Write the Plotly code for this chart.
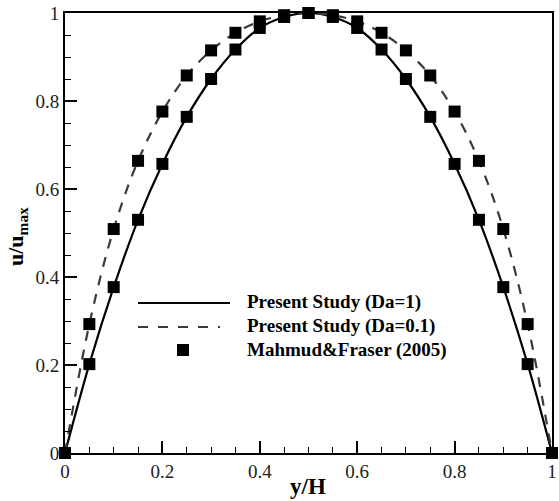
import plotly.graph_objects as go

# ---- data ----
y_over_H = [0.0, 0.05, 0.10, 0.15, 0.20, 0.25, 0.30, 0.35, 0.40, 0.45, 0.50,
            0.55, 0.60, 0.65, 0.70, 0.75, 0.80, 0.85, 0.90, 0.95, 1.0]
u_da1 = [0.0, 0.202, 0.377, 0.530, 0.657, 0.764, 0.850, 0.917, 0.966, 0.991, 1.0,
         0.991, 0.966, 0.917, 0.850, 0.764, 0.657, 0.530, 0.377, 0.202, 0.0]
u_da01 = [0.0, 0.293, 0.509, 0.664, 0.776, 0.858, 0.915, 0.955, 0.981, 0.995, 1.0,
          0.995, 0.981, 0.955, 0.915, 0.858, 0.776, 0.664, 0.509, 0.293, 0.0]
# Mahmud & Fraser (2005) reference points (both Darcy numbers)
mf_x = y_over_H + y_over_H
mf_u = u_da1 + u_da01

legend_labels = ["Present Study (Da=1)", "Present Study (Da=0.1)", "Mahmud&amp;Fraser (2005)"]
tick_vals = [0, 0.2, 0.4, 0.6, 0.8, 1.0]

FONT = "Times New Roman"

fig = go.Figure()
fig.add_trace(go.Scatter(x=y_over_H, y=u_da1, mode="lines", line_shape="spline",
                         line=dict(color="black", width=2.2), showlegend=False))
fig.add_trace(go.Scatter(x=y_over_H, y=u_da01, mode="lines", line_shape="spline",
                         line=dict(color="#3a3a3a", width=2.2, dash="10px,9px"), showlegend=False))
fig.add_trace(go.Scatter(x=mf_x, y=mf_u, mode="markers", cliponaxis=False,
                         marker=dict(symbol="square", size=12, color="black"), showlegend=False))

# pixel -> paper helpers for the hand-drawn legend
L, R, T, B = 65, 552, 13, 453
def px(x):
    return (x - L) / (R - L)
def py(y):
    return (B - y) / (B - T)

shapes = [
    dict(type="line", xref="paper", yref="paper", x0=px(138), x1=px(230), y0=py(303), y1=py(303),
         line=dict(color="black", width=2.2)),
    dict(type="line", xref="paper", yref="paper", x0=px(138), x1=px(220), y0=py(327), y1=py(327),
         line=dict(color="#3a3a3a", width=2.2, dash="10px,10px")),
    dict(type="rect", xref="paper", yref="paper", x0=px(177), x1=px(189), y0=py(356), y1=py(344),
         line=dict(width=0), fillcolor="black"),
]
annotations = []
for lab, yy in zip(legend_labels, [302, 326, 350]):
    annotations.append(dict(xref="paper", yref="paper", x=px(245), y=py(yy), xanchor="left",
                            yanchor="middle", showarrow=False, text="<b>%s</b>" % lab,
                            font=dict(family=FONT, size=19, color="black")))
annotations.append(dict(xref="paper", yref="paper", x=px(308), y=py(486), xanchor="center",
                        yanchor="middle", showarrow=False, text="<b>y/H</b>",
                        font=dict(family=FONT, size=23, color="black")))
annotations.append(dict(xref="paper", yref="paper", x=px(17), y=py(237), xanchor="center",
                        yanchor="middle", showarrow=False, textangle=-90,
                        text="<b>u/u<sub>max</sub></b>",
                        font=dict(family=FONT, size=22, color="black")))

axis_common = dict(range=[0, 1], tickvals=tick_vals, ticks="inside", ticklen=12, tickwidth=2,
                   tickcolor="black", showline=True, linecolor="black", linewidth=2,
                   mirror=True, showgrid=False, zeroline=False, automargin=False,
                   tickfont=dict(family=FONT, size=19, color="#222"),
                   minor=dict(dtick=0.05, ticks="inside", ticklen=6, tickwidth=1.2,
                              tickcolor="black", showgrid=False))

fig.update_layout(
    width=559, height=501,
    margin=dict(l=L, r=559 - R, t=T, b=501 - B),
    paper_bgcolor="white", plot_bgcolor="white",
    xaxis=axis_common, yaxis=axis_common,
    shapes=shapes, annotations=annotations,
    showlegend=False,
)

fig.write_html("out.html", config={"displayModeBar": False},
               post_script="document.body.style.margin='0';document.body.style.overflow='hidden';")
